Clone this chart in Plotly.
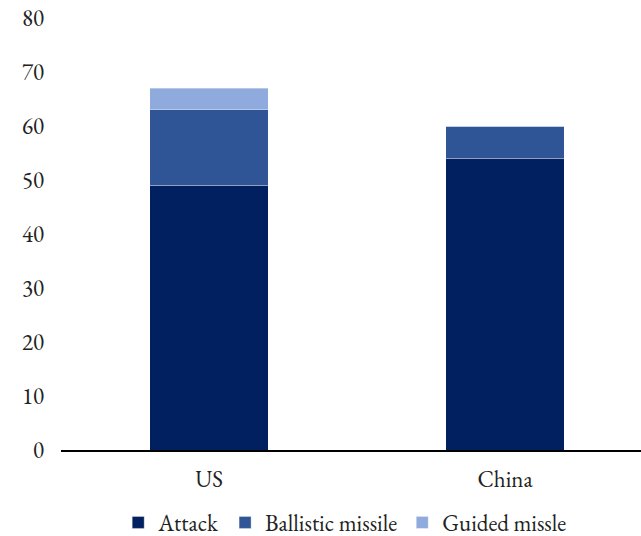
import plotly.graph_objects as go

categories = ["US", "China"]
attack = [49, 54]
ballistic = [14, 6]
guided = [4, 0]
series_names = ["Attack", "Ballistic missile", "Guided missle"]
colors = ["#002060", "#2F5597", "#8FAADC"]
y_ticks = [0, 10, 20, 30, 40, 50, 60, 70, 80]

fig = go.Figure()
for name, vals, col in zip(series_names, [attack, ballistic, guided], colors):
    fig.add_trace(go.Bar(
        x=categories, y=vals, name=name,
        marker=dict(color=col, line=dict(color="rgba(255,255,255,0.5)", width=0.7)),
        width=0.4,
    ))

font_family = "EB Garamond, Garamond, Liberation Serif, serif"
fig.update_layout(
    barmode="stack",
    width=641, height=536,
    margin=dict(l=61, r=0, t=18, b=86, autoexpand=False),
    plot_bgcolor="white", paper_bgcolor="white",
    font=dict(family=font_family, size=23, color="#222222"),
    showlegend=True,
    legend=dict(orientation="h", x=0.49, xanchor="center", y=-0.118, yanchor="top",
                font=dict(size=23), traceorder="normal", itemwidth=30,
                tracegroupgap=0),
    bargap=0.6,
)
fig.update_xaxes(range=[-0.5, 1.459], showline=True, linecolor="black", linewidth=1.5,
                 ticks="", showgrid=False, ticklabelstandoff=8, automargin=False)
fig.update_yaxes(range=[0, 80], tickvals=y_ticks, showgrid=False, zeroline=False,
                 showline=False, ticks="", ticklabelstandoff=16, automargin=False)

fig.write_html(
    "out.html",
    config={"displayModeBar": False},
    post_script="document.body.style.margin='0';document.body.style.overflow='hidden';",
)
